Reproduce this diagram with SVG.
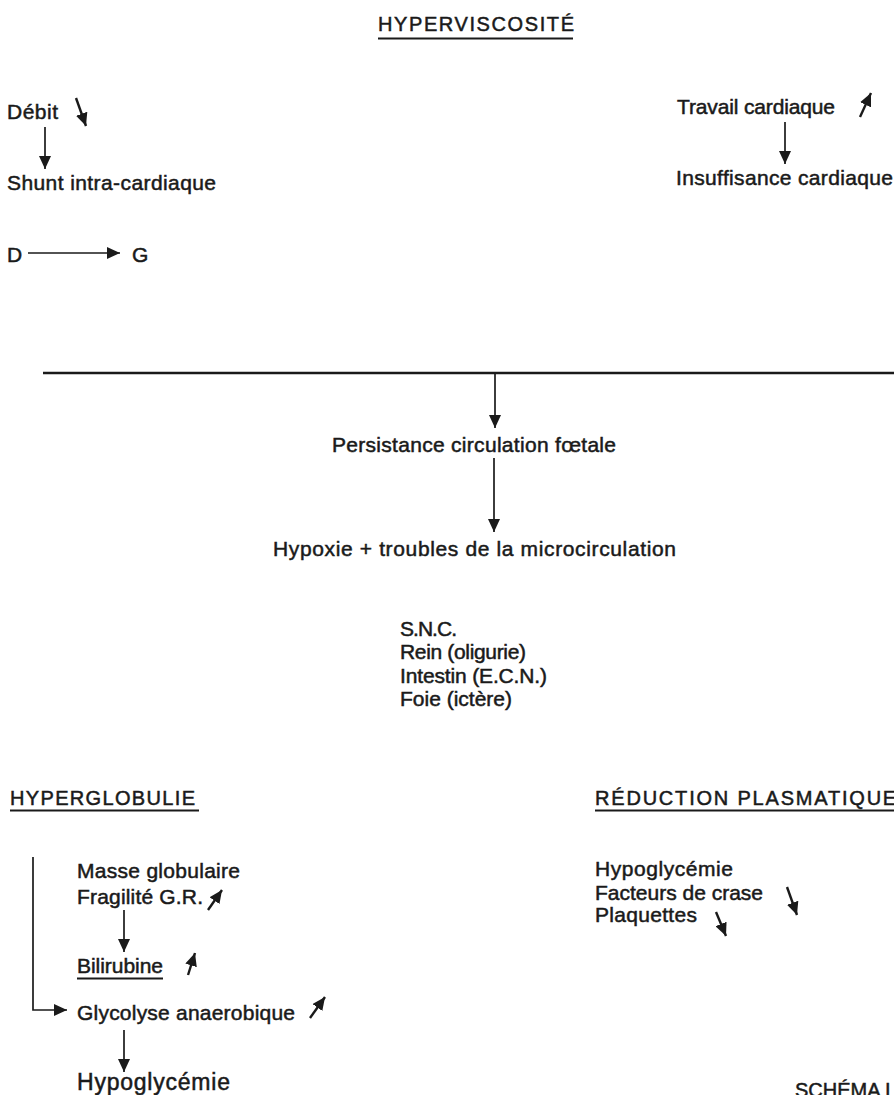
<svg xmlns="http://www.w3.org/2000/svg" width="894" height="1095" viewBox="0 0 894 1095">
<style>
text{font-family:"Liberation Sans",Arial,sans-serif;font-size:21px;fill:#1a1a1a;stroke:#1a1a1a;stroke-width:0.5px}
text.t{font-size:20px}
text.big{font-size:23px}
.c{stroke:#1a1a1a;stroke-width:1.7;fill:none}
.d{stroke:#1a1a1a;stroke-width:2.4;fill:none}
.u{stroke:#1a1a1a;stroke-width:1.8}
</style>
<defs>
<marker id="ah" markerUnits="userSpaceOnUse" markerWidth="13" markerHeight="12" refX="13" refY="6" orient="auto" viewBox="0 0 13 12">
<path d="M0,0 L13,6 L0,12 z" fill="#1a1a1a"/>
</marker>
<marker id="as" markerUnits="userSpaceOnUse" markerWidth="13" markerHeight="12" refX="13" refY="6" orient="auto" viewBox="0 0 13 12">
<path d="M0,0 L13,6 L0,12 z" fill="#1a1a1a"/>
</marker>
</defs>
<rect width="894" height="1095" fill="#fff"/>

<g id="hyperviscosite"><text class="t" x="378" y="31" textLength="196" lengthAdjust="spacing">HYPERVISCOSITÉ</text><line class="u" x1="378" y1="38.5" x2="573" y2="38.5"/></g>
<g id="debit"><text x="7" y="119" textLength="51" lengthAdjust="spacing">Débit</text></g>
<g id="shunt"><text x="7" y="190" textLength="209" lengthAdjust="spacing">Shunt intra-cardiaque</text></g>
<g id="d"><text x="7" y="262">D</text></g>
<g id="g"><text x="132" y="262">G</text></g>
<g id="travail"><text x="677" y="114" textLength="158" lengthAdjust="spacing">Travail cardiaque</text></g>
<g id="insuffisance"><text x="676" y="185" textLength="217" lengthAdjust="spacing">Insuffisance cardiaque</text></g>
<g id="persistance"><text x="332" y="452" textLength="284" lengthAdjust="spacing">Persistance circulation fœtale</text></g>
<g id="hypoxie"><text x="273" y="556" textLength="403" lengthAdjust="spacing">Hypoxie + troubles de la microcirculation</text></g>
<g id="organes">
<text x="400" y="636" textLength="57" lengthAdjust="spacing">S.N.C.</text>
<text x="400" y="659" textLength="126" lengthAdjust="spacing">Rein (oligurie)</text>
<text x="400" y="683" textLength="147" lengthAdjust="spacing">Intestin (E.C.N.)</text>
<text x="400" y="706" textLength="112" lengthAdjust="spacing">Foie (ictère)</text>
</g>
<g id="hyperglobulie"><text class="t" x="10" y="805" textLength="185" lengthAdjust="spacing">HYPERGLOBULIE</text><line class="u" x1="10" y1="810.5" x2="199" y2="810.5"/></g>
<g id="masse"><text x="77" y="878" textLength="163" lengthAdjust="spacing">Masse globulaire</text>
<text x="77" y="904" textLength="126" lengthAdjust="spacing">Fragilité G.R.</text></g>
<g id="bilirubine"><text x="77" y="973" textLength="86" lengthAdjust="spacing">Bilirubine</text><line class="u" x1="77" y1="978.5" x2="163" y2="978.5"/></g>
<g id="glycolyse"><text x="77" y="1020" textLength="218" lengthAdjust="spacing">Glycolyse anaerobique</text></g>
<g id="hypoglycemie1"><text class="big" x="77" y="1090" textLength="153" lengthAdjust="spacing">Hypoglycémie</text></g>
<g id="reduction"><text class="t" x="595" y="805" letter-spacing="1.8">RÉDUCTION PLASMATIQUE</text><line class="u" x1="595" y1="810.5" x2="894" y2="810.5"/></g>
<g id="plasma">
<text x="595" y="876" textLength="138" lengthAdjust="spacing">Hypoglycémie</text>
<text x="595" y="900" textLength="168" lengthAdjust="spacing">Facteurs de crase</text>
<text x="595" y="922" textLength="102" lengthAdjust="spacing">Plaquettes</text>
</g>
<g id="schema"><text class="t" x="795" y="1097">SCHÉMA I</text></g>

<g id="connectors">
<line class="c" x1="45" y1="127" x2="45" y2="169" marker-end="url(#ah)"/>
<line class="c" x1="785" y1="122" x2="785" y2="164" marker-end="url(#ah)"/>
<line class="c" x1="28" y1="253" x2="120" y2="253" marker-end="url(#ah)"/>
<line class="d" x1="43" y1="373" x2="894" y2="373"/>
<line class="c" x1="495" y1="373" x2="495" y2="428" marker-end="url(#ah)"/>
<line class="c" x1="494" y1="458" x2="494" y2="532" marker-end="url(#ah)"/>
<polyline class="c" points="33,857 33,1010 67,1010" marker-end="url(#ah)"/>
<line class="c" x1="124" y1="910" x2="124" y2="952" marker-end="url(#ah)"/>
<line class="c" x1="124" y1="1030" x2="124" y2="1072" marker-end="url(#ah)"/>
<line class="d" x1="76" y1="98" x2="86" y2="126" marker-end="url(#as)"/>
<line class="d" x1="860" y1="117" x2="871" y2="93" marker-end="url(#as)"/>
<line class="d" x1="208" y1="910" x2="222" y2="890" marker-end="url(#as)"/>
<line class="d" x1="188" y1="975" x2="195" y2="953" marker-end="url(#as)"/>
<line class="d" x1="310" y1="1018" x2="325" y2="997" marker-end="url(#as)"/>
<line class="d" x1="787" y1="887" x2="797" y2="915" marker-end="url(#as)"/>
<line class="d" x1="716" y1="912" x2="726" y2="936" marker-end="url(#as)"/>
</g>
</svg>
